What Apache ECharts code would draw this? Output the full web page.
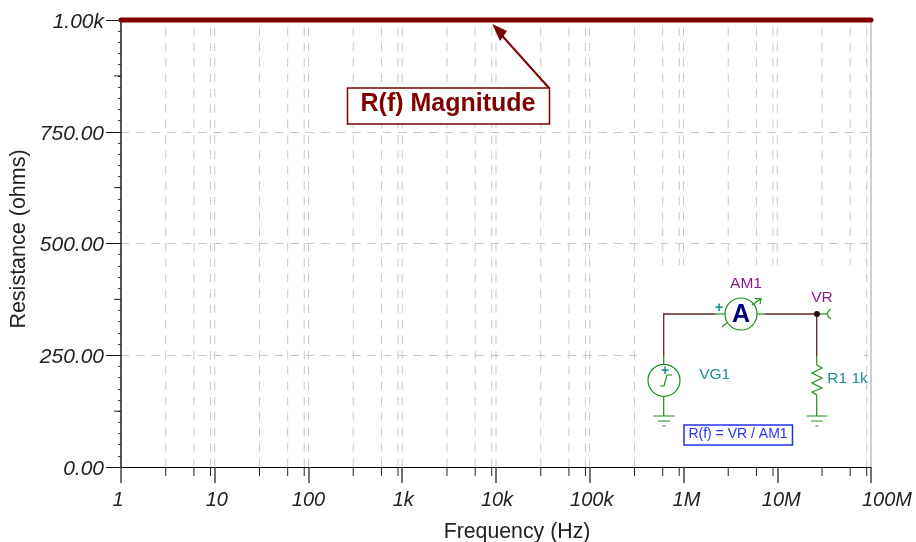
<!DOCTYPE html>
<html><head><meta charset="utf-8">
<style>html,body{margin:0;padding:0;background:#fff}#c{width:916px;height:542px}</style>
<script src="https://cdn.jsdelivr.net/npm/echarts@6/dist/echarts.min.js"></script>
</head><body><div id="c"></div>
<script>
const frequencies = [1,10,100,1e3,1e4,1e5,1e6,1e7,1e8];
const magnitude = [1000,1000,1000,1000,1000,1000,1000,1000,1000];
const xTickLabels = {1:'1',10:'10',100:'100',1000:'1k',10000:'10k',100000:'100k',1000000:'1M',10000000:'10M',100000000:'100M'};
const yTickLabels = {0:'0.00',250:'250.00',500:'500.00',750:'750.00',1000:'1.00k'};
const subFreqs = [3,6,9,30,60,90,300,600,900,3e3,6e3,9e3,3e4,6e4,9e4,3e5,6e5,9e5,3e6,6e6,9e6,3e7,6e7,9e7];
const decadeFreqs = [10,100,1e3,1e4,1e5,1e6,1e7];
const borderFreq = [1e8];
const midResistances = [125,375,625,875];

const FONT = '"Liberation Sans", Arial, sans-serif';
const GRID = '#c8c8c8', GREEN = '#1c8c1c', WIRE = '#5a2a2a', TEAL = '#1f8f8f', PURPLE = '#8c1c8c', RED = '#800000', BLUE = '#2233ee';
const DASH = [8.4, 7];

function vLine(name, freqs, y0, y1, style, z) {
  return {
    name, type: 'custom', coordinateSystem: 'cartesian2d', silent: true, clip: false, z,
    data: freqs.map(f => [f, y0]), encode: {x: 0, y: 1},
    renderItem(p, api) {
      const a = api.coord([api.value(0), y0]), b = api.coord([api.value(0), y1]);
      return {type: 'line', shape: {x1: a[0], y1: a[1], x2: b[0], y2: b[1]}, style};
    }
  };
}
function xTick(name, freqs, len, style) {
  return {
    name, type: 'custom', coordinateSystem: 'cartesian2d', silent: true, clip: false, z: 6,
    data: freqs.map(f => [f, 0]), encode: {x: 0, y: 1},
    renderItem(p, api) {
      const a = api.coord([api.value(0), 0]);
      return {type: 'line', shape: {x1: a[0], y1: a[1], x2: a[0], y2: a[1] + len}, style};
    }
  };
}
function yTick(name, vals, len, style) {
  return {
    name, type: 'custom', coordinateSystem: 'cartesian2d', silent: true, clip: false, z: 6,
    data: vals.map(v => [1, v]), encode: {x: 0, y: 1},
    renderItem(p, api) {
      const a = api.coord([1, api.value(1)]);
      return {type: 'line', shape: {x1: a[0] - len, y1: a[1], x2: a[0], y2: a[1]}, style};
    }
  };
}

function ground(cx) {
  return [
    {type:'line',z:101,shape:{x1:cx-10.5,y1:416,x2:cx+10.5,y2:416},style:{stroke:GREEN,lineWidth:1}},
    {type:'line',z:101,shape:{x1:cx-6,y1:421,x2:cx+6,y2:421},style:{stroke:GREEN,lineWidth:1}},
    {type:'line',z:101,shape:{x1:cx-1.5,y1:426,x2:cx+1.5,y2:426},style:{stroke:GREEN,lineWidth:1}}
  ];
}
const ln = (x1,y1,x2,y2,stroke,lineWidth) => ({type:'line',z:101,shape:{x1,y1,x2,y2},style:{stroke,lineWidth:lineWidth||1.2}});
const txt = (x,y,text,fill,size,extra) => ({type:'text',z:102,x,y,style:Object.assign({text,fill,font:`${size}px ${FONT}`,align:'center',verticalAlign:'middle'},extra||{})});

const graphics = [
  {type:'rect',z:100,shape:{x:637,y:265,width:227,height:201},style:{fill:'#fff'}},
  // schematic inset
  {type:'polyline',z:101,shape:{points:[[663.7,356],[663.7,314],[715,314]]},style:{stroke:WIRE,lineWidth:1.3,fill:null}},
  ln(765,314,817,314,WIRE,1.3), ln(816.7,314,816.7,356,WIRE,1.3),
  ln(715,314,725,314,GREEN), ln(757,314,765,314,GREEN),
  {type:'circle',z:101,shape:{cx:741,cy:314,r:16},style:{stroke:GREEN,lineWidth:1.2,fill:'#fff'}},
  ln(722,326.7,727,322.7,GREEN), ln(752,305,761,298.7,GREEN),
  {type:'polyline',z:101,shape:{points:[[755,298.7],[761,298.7],[760,304]]},style:{stroke:GREEN,lineWidth:1.2,fill:null}},
  txt(741,315,'A','#000080',24,{font:`bold 25px ${FONT}`}),
  txt(719,308,'+',TEAL,13,{font:`bold 14px ${FONT}`}),
  {type:'circle',z:102,shape:{cx:817,cy:314,r:3},style:{fill:'#2a0a0a'}},
  ln(817,314,828,314,GREEN),
  {type:'arc',z:101,shape:{cx:832.5,cy:314,r:5,startAngle:Math.PI*0.6,endAngle:Math.PI*1.4},style:{stroke:GREEN,lineWidth:1.2,fill:null}},
  // source
  ln(663.7,356,663.7,365,GREEN), ln(663.7,396,663.7,416,GREEN),
  {type:'circle',z:101,shape:{cx:664,cy:380.3,r:16},style:{stroke:GREEN,lineWidth:1.2,fill:'#fff'}},
  {type:'polyline',z:102,shape:{points:[[660,386],[664,386],[667,375],[672,375]]},style:{stroke:GREEN,lineWidth:1.2,fill:null}},
  txt(665,371,'+',TEAL,13,{font:`bold 14px ${FONT}`}),
  ...ground(664),
  // resistor
  ln(816.7,356,816.7,365,GREEN), ln(816.7,395,816.7,416,GREEN),
  {type:'polyline',z:101,shape:{points:[[816.7,365],[822,368],[812,373],[822,378],[812,383],[822,388],[812,392],[816.7,395]]},style:{stroke:GREEN,lineWidth:1.2,fill:null}},
  ...ground(817),
  txt(746,283.3,'AM1',PURPLE,15.5), txt(822,297.7,'VR',PURPLE,15.5),
  txt(714.7,374.7,'VG1',TEAL,15.5), txt(827.3,378.3,'R1 1k',TEAL,15.5,{align:'left'}),
  {type:'rect',z:101,shape:{x:684,y:425,width:108.5,height:20},style:{stroke:BLUE,lineWidth:1.5,fill:'#fff'}},
  txt(738,434,'R(f) = VR / AM1',BLUE,14),
  // annotation
  ln(549,88,497,30,RED,2),
  {type:'polygon',z:101,shape:{points:[[492.3,24],[507,31],[500,41]]},style:{fill:RED}},
  {type:'rect',z:101,shape:{x:347.5,y:88,width:202,height:36},style:{stroke:RED,lineWidth:1.5,fill:'#fff'}},
  txt(448,104,'R(f) Magnitude',RED,25,{font:`bold 25px ${FONT}`})
];

const xLabelFont = {fontFamily: FONT, fontStyle: 'italic', fontSize: 20, color: '#222'};
const yLabelFont = {fontFamily: FONT, fontStyle: 'italic', fontSize: 21, color: '#222'};
const chart = echarts.init(document.getElementById('c'), null, {renderer: 'canvas'});
chart.setOption({
  animation: false,
  backgroundColor: '#fff',
  grid: {left: 121, top: 20, width: 750, height: 447, containLabel: false, outerBoundsMode: 'none'},
  xAxis: {
    type: 'log', logBase: 10, min: 1, max: 1e8, splitNumber: 8,
    name: 'Frequency (Hz)', nameLocation: 'middle', nameGap: 55, nameMoveOverlap: false,
    nameTextStyle: {fontFamily: FONT, fontSize: 21.3, color: '#222', padding: [0, 0, 0, 42]},
    axisLine: {show: true, onZero: false, lineStyle: {color: '#000', width: 1}},
    axisTick: {show: true, length: 16, lineStyle: {color: '#444', width: 1.5}},
    minorTick: {show: false}, splitLine: {show: false}, minorSplitLine: {show: false},
    axisLabel: {
      margin: 23, ...xLabelFont,
      showMinLabel: true, showMaxLabel: true, hideOverlap: false,
      formatter: v => {
        const t = xTickLabels[Math.round(v)] ?? '';
        const key = {'1':'a','10':'b','100k':'b','1k':'c','10k':'c','1M':'d','10M':'e','100M':'f'}[t] || 'z';
        return `{${key}|${t}}`;
      },
      rich: {
        a: {...xLabelFont, padding: [0, 6, 0, 0]},
        b: {...xLabelFont, padding: [0, 0, 0, 4]},
        c: {...xLabelFont, padding: [0, 0, 0, 2]},
        d: {...xLabelFont, padding: [0, 0, 0, 6]},
        e: {...xLabelFont, padding: [0, 0, 0, 8]},
        f: {...xLabelFont, padding: [0, 0, 0, 32]},
        z: {...xLabelFont}
      }
    }
  },
  yAxis: {
    type: 'value', min: 0, max: 1000, interval: 250,
    name: 'Resistance (ohms)', nameLocation: 'middle', nameGap: 91, nameRotate: 90, nameMoveOverlap: false,
    nameTextStyle: {fontFamily: FONT, fontSize: 21.5, color: '#222', padding: [0, 0, 0, 9]},
    axisLine: {show: true, lineStyle: {color: '#555', width: 2}},
    axisTick: {show: true, length: 15, lineStyle: {color: '#111', width: 1}},
    minorTick: {show: true, splitNumber: 10, length: 3, lineStyle: {color: '#333', width: 1}},
    splitLine: {show: true, lineStyle: {color: GRID, width: 1, type: DASH}},
    axisLabel: {
      margin: 17, ...yLabelFont,
      formatter: v => `{y|${yTickLabels[v] ?? ''}}`,
      rich: {y: {...yLabelFont, padding: [4, 0, 0, 0]}}
    }
  },
  series: [
    vLine('grid-sub', subFreqs, 0, 1000, {stroke: GRID, lineWidth: 1, lineDash: DASH}, 1),
    vLine('grid-decade', decadeFreqs, 0, 1000, {stroke: GRID, lineWidth: 1, lineDash: DASH}, 1),
    vLine('border', borderFreq, 0, 1000, {stroke: '#cfcfcf', lineWidth: 2}, 1),
    xTick('x-sub-ticks', subFreqs, 9, {stroke: '#222', lineWidth: 1}),
    yTick('y-mid-ticks', midResistances, 7, {stroke: '#222', lineWidth: 1}),
    {
      name: 'R(f) Magnitude', type: 'line', showSymbol: false, z: 8, clip: false,
      data: frequencies.map((f, i) => [f, magnitude[i]]),
      lineStyle: {color: RED, width: 5, cap: 'round'}
    }
  ],
  graphic: {elements: graphics}
});
</script></body></html>
